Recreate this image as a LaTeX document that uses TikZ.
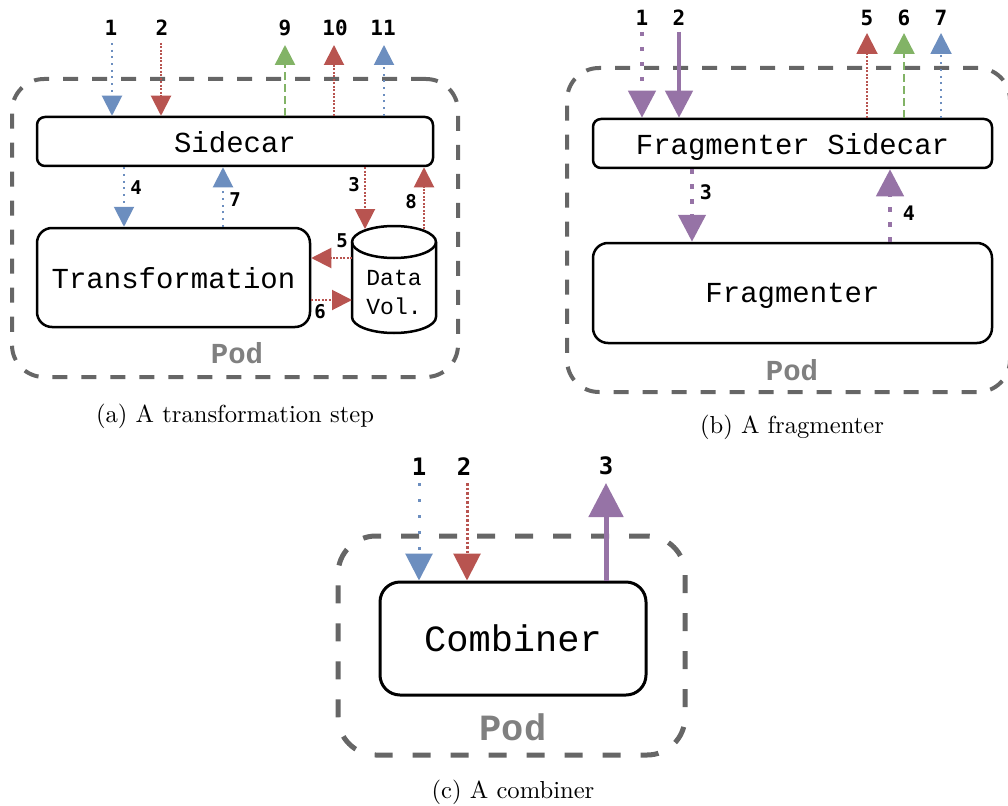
\documentclass[tikz,border=0pt]{standalone}
\usepackage{fontspec}
\usetikzlibrary{arrows.meta}
\newfontfamily\boxfont{Liberation Mono}
\newfontfamily\numfont{DejaVu Sans Mono}
\newfontfamily\capfont{lmroman10-regular}[Extension=.otf]
\definecolor{cblue}{HTML}{6C8EBF}
\definecolor{cred}{HTML}{B85450}
\definecolor{cgreen}{HTML}{82B366}
\definecolor{cpurple}{HTML}{9673A6}
\definecolor{podgrey}{HTML}{666666}
\definecolor{podtext}{HTML}{808080}
\newcommand\boxfnt{\fontsize{29}{29}\boxfont}
\begin{document}
\begin{tikzpicture}[x=1pt,y=-1pt,
  box/.style={draw, line width=2.5pt, fill=white, inner sep=0pt, text depth=0pt},
  pod/.style={draw=podgrey, line width=4pt, rounded corners=32pt, dash pattern=on 15pt off 14pt, inner sep=0pt},
  num/.style={font=\fontsize{21}{21}\numfont\bfseries, inner sep=0pt},
  snum/.style={font=\fontsize{19}{19}\numfont\bfseries, inner sep=0pt},
  podlbl/.style={text=podtext, font=\fontsize{29}{29}\boxfont\bfseries, inner sep=0pt},
  capt/.style={font=\fontsize{24.6}{29}\capfont, inner sep=0pt},
  ahead/.style={-{Triangle[width=#1,length=#1]}},
  bluedot/.style={cblue, line width=2pt, dash pattern=on 2pt off 4.7pt},
  reddot/.style={cred, line width=2pt, dash pattern=on 2pt off 1.5pt},
  greendash/.style={cgreen, line width=2.5pt, dash pattern=on 8pt off 4pt},
  purpledot/.style={cpurple, line width=4.5pt, dash pattern=on 4.5pt off 10.5pt},
  purplesolid/.style={cpurple, line width=4.5pt},
]
\useasboundingbox (0,0) rectangle (1008,805);

% ---------------- (a) transformation step ----------------
\node[pod, minimum width=446pt, minimum height=298pt] (poda) at (235,228) {};
\node[box, rounded corners=8pt, minimum width=396pt, minimum height=49pt, font=\boxfnt] (sca) at (235,141.5) {Sidecar};
\node[box, rounded corners=15pt, minimum width=273pt, minimum height=99pt, font=\boxfnt] (tr) at (173.5,277.5) {Transformation};
% data volume cylinder
\draw[line width=2.5pt, fill=white] (352,242) -- (352,317)
  arc[start angle=180, end angle=360, x radius=42pt, y radius=16pt] -- (436,242)
  arc[start angle=0, end angle=180, x radius=42pt, y radius=16pt] -- cycle;
\draw[line width=2.5pt] (352,242) arc[start angle=180, end angle=360, x radius=42pt, y radius=16pt];
\node[font=\fontsize{23}{29}\boxfont, align=center, inner sep=0pt] (dv) at (394,292.5) {Data\\Vol.};
\node[podlbl] (poda-l) at (237,353) {Pod};
\node[capt] (capa) at (235,416) {(a) A transformation step};

\node[num] (a1) at (111,28) {1};
\node[num] (a2) at (162,28) {2};
\node[num] (a9) at (285,28) {9};
\node[num] (a10) at (335,28) {10};
\node[num] (a11) at (383,28) {11};
\node[snum] (a4) at (136,188) {4};
\node[snum] (a7) at (235,200) {7};
\node[snum] (a3) at (354,185) {3};
\node[snum] (a8) at (411,202) {8};
\node[snum] (a5) at (342,241) {5};
\node[snum] (a6) at (320,312) {6};

\coordinate (ai1) at (112,43);
\coordinate (ai2) at (161,43);
\coordinate (ao9) at (285,45);
\coordinate (ao10) at (334,45);
\coordinate (ao11) at (384,45);
\coordinate (x4) at (124,0);
\coordinate (x7) at (223,0);
\coordinate (dvt3) at (365,229);
\coordinate (dvt8) at (424,229);
\coordinate (dvl5) at (352,258);
\coordinate (dvl6) at (352,300);

\draw[bluedot, ahead=20pt] (ai1) -- (ai1 |- sca.north);
\draw[reddot, ahead=20pt] (ai2) -- (ai2 |- sca.north);
\draw[greendash, ahead=20pt] (ao9 |- sca.north) -- (ao9);
\draw[reddot, ahead=20pt] (ao10 |- sca.north) -- (ao10);
\draw[bluedot, ahead=20pt] (ao11 |- sca.north) -- (ao11);
\draw[bluedot, ahead=20pt] (x4 |- sca.south) -- (x4 |- tr.north);
\draw[bluedot, ahead=20pt] (x7 |- tr.north) -- (x7 |- sca.south);
\draw[reddot, ahead=20pt] (dvt3 |- sca.south) -- (dvt3);
\draw[reddot, ahead=20pt] (dvt8) -- (dvt8 |- sca.south);
\draw[reddot, ahead=20pt] (dvl5) -- (dvl5 -| tr.east);
\draw[reddot, ahead=20pt] (dvl6 -| tr.east) -- (dvl6);

% ---------------- (b) fragmenter ----------------
\node[pod, minimum width=443pt, minimum height=324pt] (podb) at (788.5,230) {};
\node[box, rounded corners=8pt, minimum width=399pt, minimum height=49pt, font=\boxfnt] (fs) at (792.5,143.5) {Fragmenter Sidecar};
\node[box, rounded corners=15pt, minimum width=399pt, minimum height=100pt, font=\boxfnt] (fr) at (792.5,293) {Fragmenter};
\node[podlbl] (podb-l) at (792,370) {Pod};
\node[capt] (capb) at (792,427) {(b) A fragmenter};

\node[num] (b1) at (642,18) {1};
\node[num] (b2) at (679,18) {2};
\node[num] (b5) at (867,18) {5};
\node[num] (b6) at (904,18) {6};
\node[num] (b7) at (941,18) {7};
\node[snum, font=\fontsize{20}{20}\numfont\bfseries] (b3) at (706,192) {3};
\node[snum, font=\fontsize{20}{20}\numfont\bfseries] (b4) at (909,213) {4};

\coordinate (bi1) at (642,32);
\coordinate (bi2) at (679,32);
\coordinate (bo5) at (867,33);
\coordinate (bo6) at (904,33);
\coordinate (bo7) at (941,33);
\coordinate (x3b) at (692,0);
\coordinate (x4b) at (890,0);

\draw[purpledot, ahead=27pt] (bi1) -- (bi1 |- fs.north);
\draw[purplesolid, ahead=27pt] (bi2) -- (bi2 |- fs.north);
\draw[reddot, ahead=21pt] (bo5 |- fs.north) -- (bo5);
\draw[greendash, ahead=21pt] (bo6 |- fs.north) -- (bo6);
\draw[bluedot, ahead=21pt] (bo7 |- fs.north) -- (bo7);
\draw[purpledot, ahead=27pt] (x3b |- fs.south) -- (x3b |- fr.north);
\draw[purpledot, ahead=27pt] (x4b |- fr.north) -- (x4b |- fs.south);

% ---------------- (c) combiner ----------------
\node[pod, line width=5pt, rounded corners=38pt, dash pattern=on 18pt off 20pt, minimum width=347pt, minimum height=219pt] (podc) at (511.5,645.5) {};
\node[box, line width=3pt, rounded corners=20pt, minimum width=266pt, minimum height=113pt, font=\fontsize{37}{37}\boxfont] (cb) at (513,638.5) {Combiner};
\node[podlbl, font=\fontsize{37}{37}\boxfont\bfseries] (podc-l) at (513,727) {Pod};
\node[capt] (capc) at (513,792) {(c) A combiner};

\node[num, font=\fontsize{24}{24}\numfont\bfseries] (c1) at (419,467) {1};
\node[num, font=\fontsize{24}{24}\numfont\bfseries] (c2) at (464,467) {2};
\node[num, font=\fontsize{24}{24}\numfont\bfseries] (c3) at (606,466) {3};

\coordinate (ci1) at (419,483);
\coordinate (ci2) at (467,483);
\coordinate (co3) at (606,483);

\draw[cblue, line width=3pt, dash pattern=on 3pt off 13pt, ahead=27pt] (ci1) -- (ci1 |- cb.north);
\draw[cred, line width=3pt, dash pattern=on 2.5pt off 2pt, ahead=27pt] (ci2) -- (ci2 |- cb.north);
\draw[cpurple, line width=5pt, ahead=34pt] (co3 |- cb.north) -- (co3);
\end{tikzpicture}
\end{document}
